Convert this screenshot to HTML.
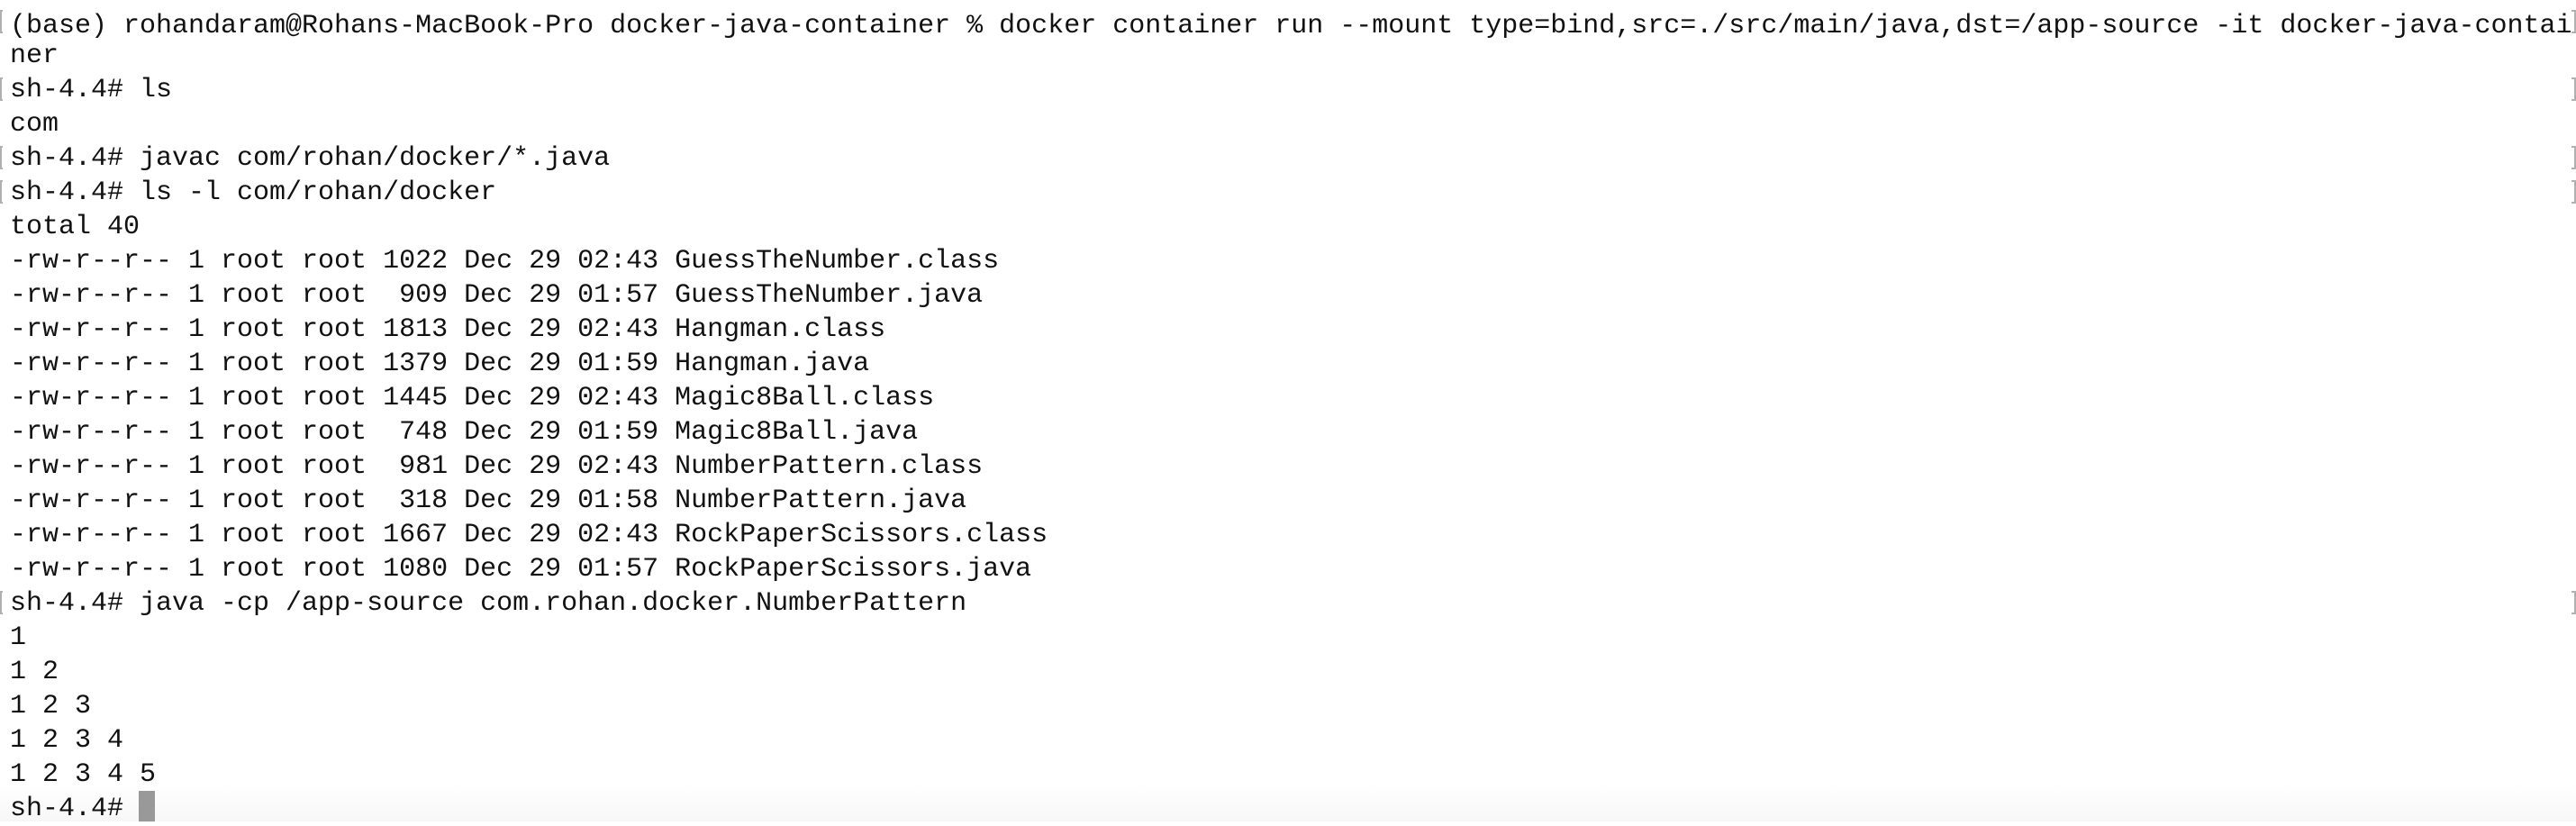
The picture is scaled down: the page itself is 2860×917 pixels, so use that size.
<!DOCTYPE html>
<html><head><meta charset="utf-8"><style>
html,body{margin:0;padding:0;background:#fff;}
body{width:2860px;height:912px;position:relative;overflow:hidden;
background:linear-gradient(to bottom,#fff 0,#fff 870px,#f7f7f7 912px);}
.l{position:absolute;left:11px;height:38px;line-height:38px;font-family:"Liberation Mono",monospace;font-size:30px;color:#111;white-space:pre;}
.lb{position:absolute;left:0;width:3px;height:26px;border:2px solid #b0b0b0;border-right:none;box-sizing:border-box;}
.rb{position:absolute;left:2855px;width:5px;height:26px;border:2px solid #b0b0b0;border-left:none;box-sizing:border-box;}
.cur{position:absolute;left:154px;top:878px;width:18px;height:34px;background:#999;}
</style></head><body>
<div class="l" style="top:10px">(base) rohandaram@Rohans-MacBook-Pro docker-java-container % docker container run --mount type=bind,src=./src/main/java,dst=/app-source -it docker-java-contai</div>
<div class="l" style="top:43px">ner</div>
<div class="l" style="top:81px">sh-4.4# ls</div>
<div class="l" style="top:119px">com</div>
<div class="l" style="top:157px">sh-4.4# javac com/rohan/docker/*.java</div>
<div class="l" style="top:195px">sh-4.4# ls -l com/rohan/docker</div>
<div class="l" style="top:233px">total 40</div>
<div class="l" style="top:271px">-rw-r--r-- 1 root root 1022 Dec 29 02:43 GuessTheNumber.class</div>
<div class="l" style="top:309px">-rw-r--r-- 1 root root  909 Dec 29 01:57 GuessTheNumber.java</div>
<div class="l" style="top:347px">-rw-r--r-- 1 root root 1813 Dec 29 02:43 Hangman.class</div>
<div class="l" style="top:385px">-rw-r--r-- 1 root root 1379 Dec 29 01:59 Hangman.java</div>
<div class="l" style="top:423px">-rw-r--r-- 1 root root 1445 Dec 29 02:43 Magic8Ball.class</div>
<div class="l" style="top:461px">-rw-r--r-- 1 root root  748 Dec 29 01:59 Magic8Ball.java</div>
<div class="l" style="top:499px">-rw-r--r-- 1 root root  981 Dec 29 02:43 NumberPattern.class</div>
<div class="l" style="top:537px">-rw-r--r-- 1 root root  318 Dec 29 01:58 NumberPattern.java</div>
<div class="l" style="top:575px">-rw-r--r-- 1 root root 1667 Dec 29 02:43 RockPaperScissors.class</div>
<div class="l" style="top:613px">-rw-r--r-- 1 root root 1080 Dec 29 01:57 RockPaperScissors.java</div>
<div class="l" style="top:651px">sh-4.4# java -cp /app-source com.rohan.docker.NumberPattern</div>
<div class="l" style="top:689px">1</div>
<div class="l" style="top:727px">1 2</div>
<div class="l" style="top:765px">1 2 3</div>
<div class="l" style="top:803px">1 2 3 4</div>
<div class="l" style="top:841px">1 2 3 4 5</div>
<div class="l" style="top:879px">sh-4.4#</div>
<div class="cur"></div>
<div class="lb" style="top:11px"></div>
<div class="lb" style="top:86px"></div>
<div class="lb" style="top:162px"></div>
<div class="lb" style="top:200px"></div>
<div class="lb" style="top:656px"></div>
<div class="rb" style="top:11px"></div>
<div class="rb" style="top:86px"></div>
<div class="rb" style="top:162px"></div>
<div class="rb" style="top:200px"></div>
<div class="rb" style="top:656px"></div>
</body></html>
